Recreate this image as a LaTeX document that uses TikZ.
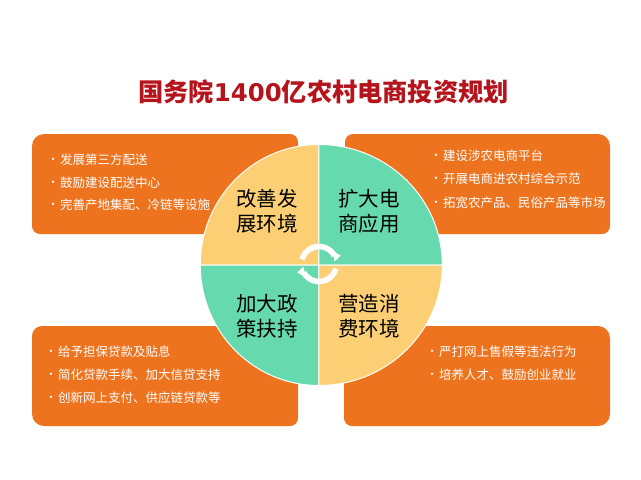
\documentclass[tikz,border=0pt]{standalone}
\usepackage{fontspec}
\setmainfont{Noto Sans CJK SC}
\newfontfamily\digitfont{DejaVu Sans}
\definecolor{boxor}{HTML}{EE731E}
\definecolor{petalY}{HTML}{FDCF75}
\definecolor{petalG}{HTML}{66DAAE}
\definecolor{titlered}{HTML}{B5141C}
\tikzset{
  x=1pt,y=-1pt,
  panel/.style={fill=boxor,draw=none},
  petal/.style={draw=white,line width=1pt},
  item/.style={anchor=west,text=white,font=\fontsize{12.5}{15}\selectfont,inner sep=0pt},
  dotmark/.style={anchor=center,text=white,font=\fontsize{11}{12}\selectfont,inner sep=0pt},
  capt/.style={align=center,text=black,font=\fontsize{20.5}{25}\selectfont,inner sep=0pt},
  ring/.style={draw=white,line width=5.6pt},
  ringhead/.style={fill=white,draw=white,line width=.6pt,line join=round}
}
\begin{document}
\begin{tikzpicture}
\useasboundingbox (0,0) rectangle (641,480);
\fill[white] (0,0) rectangle (641,480);
% panels
\fill[panel] (32,234) [rounded corners=8pt] -- (298,234) -- (298,134) [rounded corners=12pt] -- (32,134) [rounded corners=8pt] -- cycle;
\fill[panel] (345,234) [rounded corners=8pt] -- (610,234) [rounded corners=12pt] -- (610,134) [rounded corners=8pt] -- (345,134) -- cycle;
\fill[panel] (32,426) [rounded corners=8pt] -- (298,426) -- (298,326) [rounded corners=10pt] -- (32,326) [rounded corners=12pt] -- cycle;
\fill[panel] (344,426) [rounded corners=12pt] -- (610,426) -- (610,326) [rounded corners=8pt] -- (344,326) -- cycle;
% petals
\coordinate (c) at (318.8,265);
\fill[petalY,petal] (c) -- ++(-118.5,0) arc[start angle=180,end angle=90,x radius=118.5pt,y radius=120.5pt] -- cycle;
\fill[petalG,petal] (c) -- ++(0,-120.5) arc[start angle=90,end angle=0,x radius=123.5pt,y radius=120.5pt] -- cycle;
\fill[petalG,petal] (c) -- ++(-118.5,0) arc[start angle=180,end angle=270,x radius=118.5pt,y radius=120.5pt] -- cycle;
\fill[petalY,petal] (c) -- ++(123.5,0) arc[start angle=0,end angle=-90,x radius=123.5pt,y radius=120.5pt] -- cycle;
% ring arrows
\coordinate (rc) at (319,264);
\draw[ring] (rc) ++(165:17.5pt) arc[start angle=165,end angle=29,radius=17.5pt];
\fill[ringhead] (333,252) -- (340.3,255.5) -- (334.7,260.8) -- cycle;
\draw[ring] (rc) ++(-15:17.5pt) arc[start angle=345,end angle=209,radius=17.5pt];
\fill[ringhead] (305,276) -- (297.7,272.5) -- (303.3,267.2) -- cycle;
% title
\node[inner sep=0pt,text=titlered,font=\fontsize{25.2}{30}\selectfont\bfseries] (title) at (323.5,92) {国务院{\digitfont\fontsize{24.4}{30}\selectfont\bfseries 1400}亿农村电商投资规划};
% captions
\node[capt] (capa) at (267,211) {改善发\\展环境};
\node[capt] (capb) at (368.8,211) {扩大电\\商应用};
\node[capt] (capc) at (267,316) {加大政\\策扶持};
\node[capt] (capd) at (368.8,316) {营造消\\费环境};
% items
\foreach \nm/\x/\y/\t in {
 a1/60/160/发展第三方配送, a2/60/183/鼓励建设配送中心, a3/60/205/完善产地集配、冷链等设施,
 b1/443/156/建设涉农电商平台, b2/443/179/开展电商进农村综合示范, b3/443/203/拓宽农产品、民俗产品等市场,
 c1/58/352/给予担保贷款及贴息, c2/58/375/简化贷款手续、加大信贷支持, c3/58/398/创新网上支付、供应链贷款等,
 d1/439/352/严打网上售假等违法行为, d2/439/375/培养人才、鼓励创业就业}{
  \node[item] (\nm) at (\x,\y) {\t};
  \node[dotmark] (\nm dot) at ({\x-7},{\y+1}) {·};
}
\end{tikzpicture}
\end{document}
